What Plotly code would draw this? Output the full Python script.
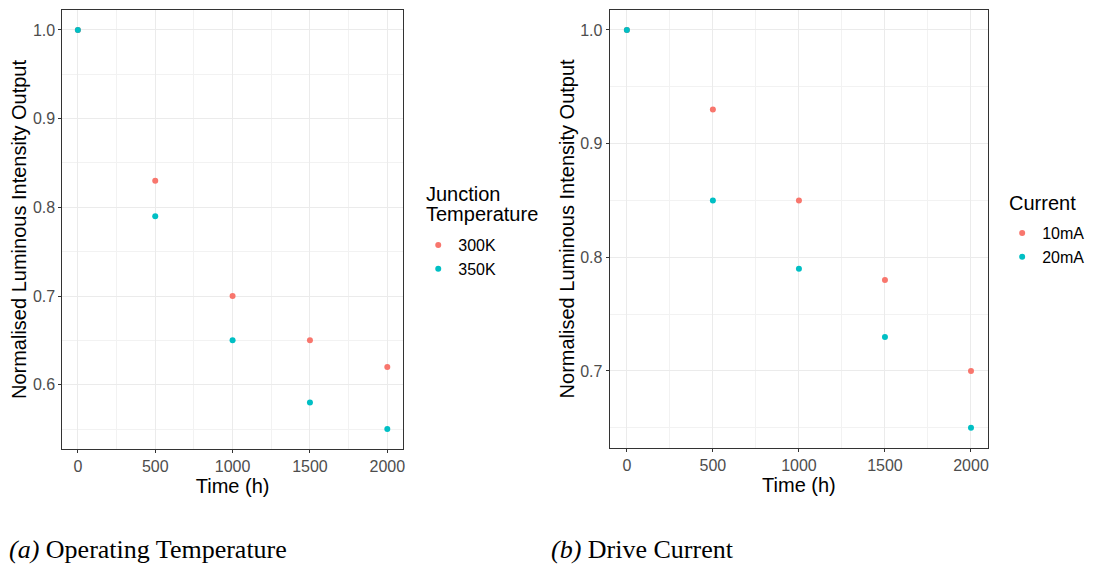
import plotly.graph_objects as go

time_h = [0, 500, 1000, 1500, 2000]
temp_300k = [1.0, 0.83, 0.70, 0.65, 0.62]
temp_350k = [1.0, 0.79, 0.65, 0.58, 0.55]
cur_10ma = [1.0, 0.93, 0.85, 0.78, 0.70]
cur_20ma = [1.0, 0.85, 0.79, 0.73, 0.65]

RED = "#F8766D"
CYAN = "#00BFC4"
OFF = 8  # default page body margin
W, H = 1096 - OFF, 568 - OFF
FONT = "Liberation Sans, Arial, sans-serif"
SERIF = "Liberation Serif, Times New Roman, serif"


def px(x):
    return (x - OFF) / W


def py(y):
    return 1 - (y - OFF) / H


fig = go.Figure()
fig.add_trace(go.Scatter(x=time_h, y=temp_300k, mode="markers", name="300K",
                         marker=dict(color=RED, size=6), xaxis="x", yaxis="y", legend="legend"))
fig.add_trace(go.Scatter(x=time_h, y=temp_350k, mode="markers", name="350K",
                         marker=dict(color=CYAN, size=6), xaxis="x", yaxis="y", legend="legend"))
fig.add_trace(go.Scatter(x=time_h, y=cur_10ma, mode="markers", name="10mA",
                         marker=dict(color=RED, size=6), xaxis="x2", yaxis="y2", legend="legend2"))
fig.add_trace(go.Scatter(x=time_h, y=cur_20ma, mode="markers", name="20mA",
                         marker=dict(color=CYAN, size=6), xaxis="x2", yaxis="y2", legend="legend2"))


def xax(domain, anchor):
    return dict(domain=domain, anchor=anchor, range=[-100, 2100], tickvals=[0, 500, 1000, 1500, 2000],
                showgrid=True, gridcolor="#EBEBEB", gridwidth=1,
                minor=dict(showgrid=True, gridcolor="#F2F2F2", gridwidth=0.6, tickvals=[250, 750, 1250, 1750]),
                showline=True, mirror=True, linecolor="#333333", linewidth=1,
                ticks="outside", ticklen=3, tickcolor="#333333",
                tickfont=dict(family=FONT, size=16, color="#4D4D4D"),
                title=dict(text="Time (h)", font=dict(family=FONT, size=20, color="black"), standoff=0),
                zeroline=False)


def yax(domain, anchor, rng, tickvals, minorvals, standoff):
    return dict(domain=domain, anchor=anchor, range=rng, tickvals=tickvals,
                ticktext=[f"{v:.1f}" for v in tickvals],
                showgrid=True, gridcolor="#EBEBEB", gridwidth=1,
                minor=dict(showgrid=True, gridcolor="#F2F2F2", gridwidth=0.6, tickvals=minorvals),
                showline=True, mirror=True, linecolor="#333333", linewidth=1,
                ticks="outside", ticklen=3, tickcolor="#333333",
                tickfont=dict(family=FONT, size=16, color="#4D4D4D"),
                title=dict(text="Normalised Luminous Intensity Output",
                           font=dict(family=FONT, size=20, color="black"), standoff=standoff),
                zeroline=False)


def text_ann(text, x, y, size, family=FONT):
    return dict(text=text, x=px(x), y=py(y), xref="paper", yref="paper",
                xanchor="left", yanchor="middle", showarrow=False,
                font=dict(family=family, size=size, color="black"))


fig.update_layout(
    width=W, height=H,
    margin=dict(l=0, r=0, t=0, b=0),
    paper_bgcolor="white", plot_bgcolor="white",
    xaxis=xax([px(62.5), px(403.5)], "y"),
    yaxis=yax([py(449), py(10)], "x", [0.5275, 1.0225], [0.6, 0.7, 0.8, 0.9, 1.0],
              [0.55, 0.65, 0.75, 0.85, 0.95], 3),
    xaxis2=xax([px(610.75), px(990)], "y2"),
    yaxis2=yax([py(447.7), py(10.1)], "x2", [0.6325, 1.0175], [0.7, 0.8, 0.9, 1.0],
               [0.65, 0.75, 0.85, 0.95], 0),
    legend=dict(x=px(419), y=py(228), xanchor="left", yanchor="top",
                font=dict(family=FONT, size=16, color="black"), bgcolor="rgba(0,0,0,0)",
                tracegroupgap=0),
    legend2=dict(x=px(1004), y=py(216), xanchor="left", yanchor="top",
                 font=dict(family=FONT, size=16, color="black"), bgcolor="rgba(0,0,0,0)",
                 tracegroupgap=0),
    annotations=[
        text_ann("Junction", 425, 194, 20),
        text_ann("Temperature", 425, 214, 20),
        text_ann("Current", 1009, 203, 20),
        text_ann("<i>(a)</i> Operating Temperature", 7, 549, 26, SERIF),
        text_ann("<i>(b)</i> Drive Current", 550, 549, 26, SERIF),
    ],
)

fig.write_html("out.html")
